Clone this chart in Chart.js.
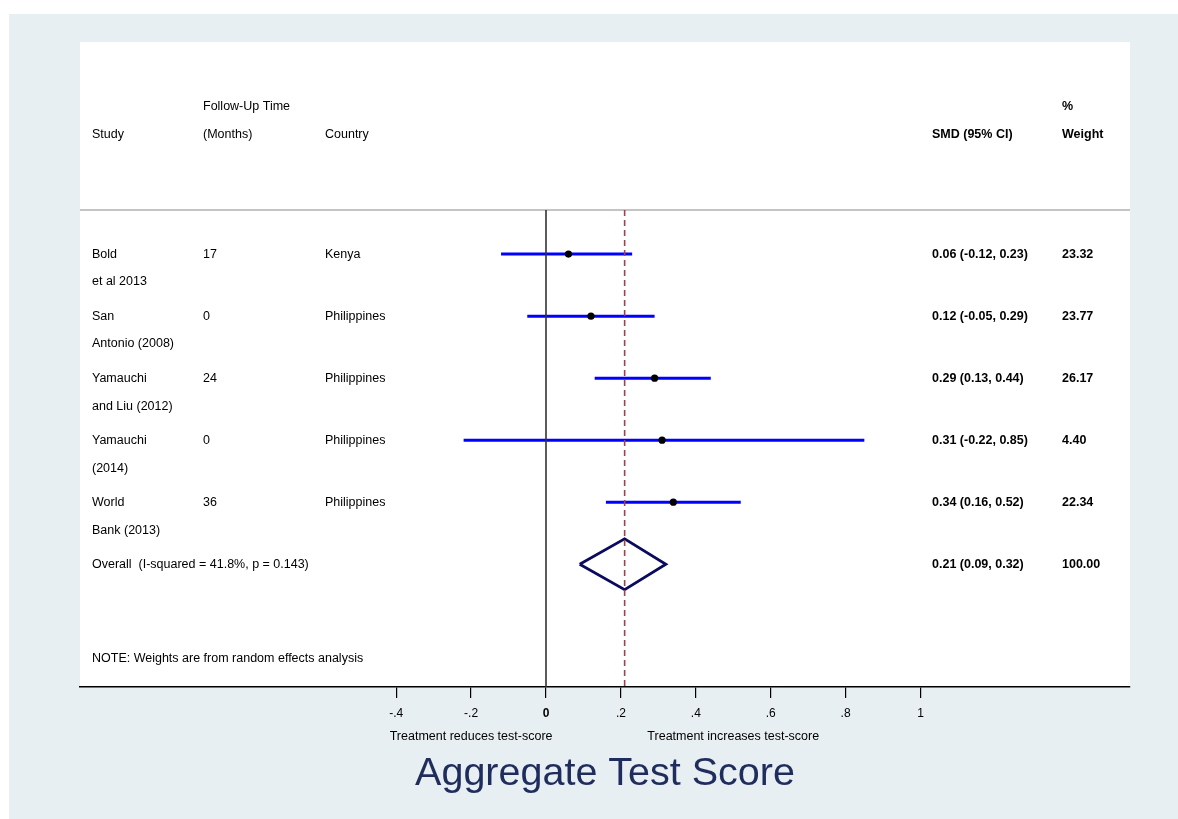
<!DOCTYPE html>
<html>
<head>
<meta charset="utf-8">
<script src="https://cdn.jsdelivr.net/npm/chart.js@4/dist/chart.umd.min.js"></script>
<style>
  html, body { margin: 0; padding: 0; background: #ffffff; }
  canvas { display: block; }
</style>
</head>
<body>
<canvas id="c" width="1178" height="819"></canvas>
<script>
// ---- Data ----
const studyLine1 = ["Bold", "San", "Yamauchi", "Yamauchi", "World"];
const studyLine2 = ["et al 2013", "Antonio (2008)", "and Liu (2012)", "(2014)", "Bank (2013)"];
const followUp = ["17", "0", "24", "0", "36"];
const countries = ["Kenya", "Philippines", "Philippines", "Philippines", "Philippines"];
const smd = [0.06, 0.12, 0.29, 0.31, 0.34];
const ciLow = [-0.12, -0.05, 0.13, -0.22, 0.16];
const ciHigh = [0.23, 0.29, 0.44, 0.85, 0.52];
const weights = [23.32, 23.77, 26.17, 4.40, 22.34];
const overallEst = 0.21;
const overallLow = 0.09;
const overallHigh = 0.32;
const overallWeight = 100.00;
const overallLabel = "Overall  (I-squared = 41.8%, p = 0.143)";
const noteText = "NOTE: Weights are from random effects analysis";
const tickValues = [-0.4, -0.2, 0, 0.2, 0.4, 0.6, 0.8, 1];
const axisLeftLabel = "Treatment reduces test-score";
const axisRightLabel = "Treatment increases test-score";
const titleText = "Aggregate Test Score";

// ---- Layout / style ----
const FONT = "'Liberation Sans', Arial, Helvetica, sans-serif";
const BG = "#e8eff2";
const overallRow = smd.length;
const topRuleRow = -0.71;
const yMin = -3.42, yMax = 6.98;
const diamondHalf = 0.41;

function fmt(v) { return v.toFixed(2); }
function tickFmt(v) {
  if (Math.abs(v) < 1e-9) return "0";
  if (Math.abs(v - 1) < 1e-9) return "1";
  let s = String(Math.round(v * 10) / 10);
  return s.replace("0.", ".");
}

const datasets = [];
// CI lines
smd.forEach((_, i) => {
  datasets.push({
    type: 'line',
    data: [{ x: ciLow[i], y: i }, { x: ciHigh[i], y: i }],
    borderColor: '#0000ff', borderWidth: 3, pointRadius: 0, fill: false,
    order: 3
  });
});
// point estimates
datasets.push({
  type: 'scatter',
  data: smd.map((v, i) => ({ x: v, y: i })),
  backgroundColor: '#000000', borderColor: '#000000', pointRadius: 3.6, borderWidth: 0,
  order: 0
});
// overall diamond
datasets.push({
  type: 'line',
  data: [
    { x: overallLow, y: overallRow },
    { x: overallEst, y: overallRow - diamondHalf },
    { x: overallHigh, y: overallRow },
    { x: overallEst, y: overallRow + diamondHalf },
    { x: overallLow, y: overallRow }
  ],
  borderColor: '#0b0b5e', borderWidth: 2.8, pointRadius: 0, fill: false, tension: 0,
  borderJoinStyle: 'miter',
  order: 2
});
// overall dashed line
datasets.push({
  type: 'line',
  data: [{ x: overallEst, y: topRuleRow }, { x: overallEst, y: yMax }],
  borderColor: '#a0424c', borderWidth: 1.6, borderDash: [6, 4], pointRadius: 0, fill: false,
  order: 1
});
// no-effect line
datasets.push({
  type: 'line',
  data: [{ x: 0, y: topRuleRow }, { x: 0, y: yMax }],
  borderColor: '#333333', borderWidth: 1.6, pointRadius: 0, fill: false,
  order: 1
});

const decorPlugin = {
  id: 'decor',
  beforeDraw(chart) {
    const { ctx, chartArea: a, width, height } = chart;
    ctx.save();
    ctx.fillStyle = '#ffffff';
    ctx.fillRect(0, 0, width, height);
    ctx.fillStyle = BG;
    ctx.fillRect(9, 14, width - 9, height - 14);
    ctx.fillStyle = '#ffffff';
    ctx.fillRect(a.left, a.top, a.right - a.left, a.bottom - a.top);
    // top rule
    const y = chart.scales.y.getPixelForValue(topRuleRow);
    ctx.strokeStyle = '#c4c4c4';
    ctx.lineWidth = 2;
    ctx.beginPath();
    ctx.moveTo(a.left, y);
    ctx.lineTo(a.right, y);
    ctx.stroke();
    ctx.restore();
  },
  afterDraw(chart) {
    const { ctx } = chart;
    const ys = chart.scales.y, xs = chart.scales.x;
    const colStudy = 92, colFU = 203, colCountry = 325, colSMD = 932, colW = 1062;
    const reg = "12.5px " + FONT;
    const bold = "bold 12.5px " + FONT;
    ctx.save();
    ctx.fillStyle = '#000000';
    ctx.textBaseline = 'middle';
    ctx.textAlign = 'left';
    const put = (t, x, row, f) => { ctx.font = f; ctx.fillText(t, x, ys.getPixelForValue(row)); };
    // headers
    put("Follow-Up Time", colFU, -2.387, reg);
    put("Study", colStudy, -1.935, reg);
    put("(Months)", colFU, -1.935, reg);
    put("Country", colCountry, -1.935, reg);
    put("%", colW, -2.387, bold);
    put("SMD (95% CI)", colSMD, -1.935, bold);
    put("Weight", colW, -1.935, bold);
    // rows
    smd.forEach((v, i) => {
      put(studyLine1[i], colStudy, i, reg);
      put(studyLine2[i], colStudy, i + 0.45, reg);
      put(followUp[i], colFU, i, reg);
      put(countries[i], colCountry, i, reg);
      put(fmt(v) + " (" + fmt(ciLow[i]) + ", " + fmt(ciHigh[i]) + ")", colSMD, i, bold);
      put(fmt(weights[i]), colW, i, bold);
    });
    put(overallLabel, colStudy, overallRow, reg);
    put(fmt(overallEst) + " (" + fmt(overallLow) + ", " + fmt(overallHigh) + ")", colSMD, overallRow, bold);
    put(fmt(overallWeight), colW, overallRow, bold);
    put(noteText, colStudy, 6.516, reg);
    // axis subtitles
    ctx.textAlign = 'center';
    ctx.font = reg;
    ctx.fillText(axisLeftLabel, xs.getPixelForValue(-0.2), 737);
    ctx.fillText(axisRightLabel, xs.getPixelForValue(0.5), 737);
    // title
    ctx.fillStyle = '#1f2d5c';
    ctx.font = "39.5px " + FONT;
    ctx.fillText(titleText, 605, 774);
    ctx.restore();
  }
};

new Chart(document.getElementById('c'), {
  type: 'scatter',
  data: { datasets },
  plugins: [decorPlugin],
  options: {
    responsive: false,
    animation: false,
    devicePixelRatio: 1,
    layout: { padding: { left: 80, right: 48, top: 42, bottom: 0 } },
    plugins: { legend: { display: false }, tooltip: { enabled: false }, title: { display: false } },
    scales: {
      x: {
        type: 'linear',
        position: 'bottom',
        min: -1.2443,
        max: 1.5594,
        afterBuildTicks(scale) { scale.ticks = tickValues.map(v => ({ value: v })); },
        afterFit(scale) { scale.height = 132; },
        grid: { drawOnChartArea: false, drawTicks: true, tickLength: 11, color: '#000000', tickColor: '#000000', lineWidth: 1.2 },
        border: { display: true, color: '#000000', width: 1.5 },
        ticks: {
          color: '#000000',
          padding: 8,
          maxRotation: 0,
          autoSkip: false,
          font: (ctx) => ({ family: FONT, size: 12, weight: (ctx.tick && ctx.tick.value === 0) ? 'bold' : 'normal' }),
          callback: (v) => tickFmt(v)
        }
      },
      y: {
        type: 'linear',
        display: false,
        reverse: true,
        min: yMin,
        max: yMax
      }
    }
  }
});
</script>
</body>
</html>
